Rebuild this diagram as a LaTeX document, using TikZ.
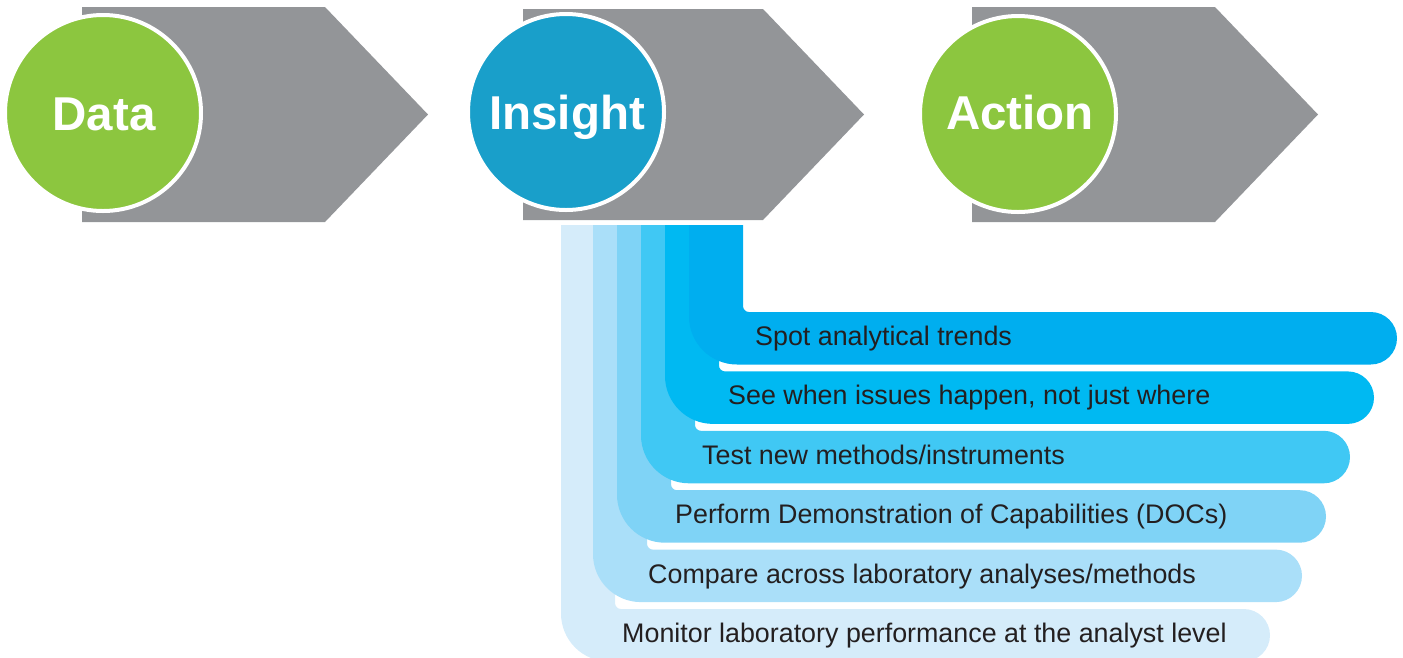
\documentclass[tikz,border=0pt]{standalone}
\usepackage{fontspec}
\setmainfont{Liberation Sans}
\definecolor{chevgray}{HTML}{939598}
\definecolor{dgreen}{HTML}{8CC63F}
\definecolor{iblue}{HTML}{199FCA}
\definecolor{bandA}{HTML}{00AEEF}
\definecolor{bandB}{HTML}{00B9F2}
\definecolor{bandC}{HTML}{40C8F4}
\definecolor{bandD}{HTML}{7FD3F6}
\definecolor{bandE}{HTML}{AADFF9}
\definecolor{bandF}{HTML}{D5ECFA}
\definecolor{txtdark}{HTML}{231F20}
\newcommand\drawband[4]{%
  \fill[#4] (#1,-225) -- ({#1+54},-225) -- ({#1+54},{-#2+6})
    arc[start angle=180,end angle=270,radius=6pt]
    -- ({#3-26.25},{-#2})
    arc[start angle=90,end angle=-90,radius=26.25pt]
    -- ({#1+48},{-#2-52.5})
    arc[start angle=270,end angle=180,radius=48pt]
    -- cycle;}
\tikzset{
  chev/.style={fill=chevgray},
  stagecircle/.style={circle, draw=white, line width=4pt, minimum size=196pt, inner sep=0pt},
  stagelbl/.style={text=white, font=\fontsize{47.5}{50}\selectfont\bfseries, inner sep=0pt, anchor=base},
  lbl/.style={text=txtdark, font=\fontsize{26.85}{30}\selectfont, inner sep=0pt, anchor=base west}
}
\begin{document}
\begin{tikzpicture}[x=1pt,y=1pt]
\useasboundingbox (0,0) rectangle (1403,-657);
\clip (0,0) rectangle (1403,-657);
% chevrons
\fill[chev] (82,-7) -- (325,-7) -- (428,-114.5) -- (325,-222) -- (82,-222) -- cycle;
\fill[chev] (523,-9) -- (763,-9) -- (864,-114.5) -- (763,-220) -- (523,-220) -- cycle;
\fill[chev] (972,-7) -- (1215,-7) -- (1318,-114.5) -- (1215,-222) -- (972,-222) -- cycle;
% circles
\node[stagecircle, fill=dgreen] (cdata) at (103,-113) {};
\node[stagecircle, fill=iblue] (cins) at (566,-112) {};
\node[stagecircle, fill=dgreen] (cact) at (1018,-114) {};
\node[stagelbl] (ldata) at (104,-130) {Data};
\node[stagelbl] (lins) at (567,-129.5) {Insight};
\node[stagelbl] (lact) at (1020,-129.5) {Action};
% bands (back to front)
\drawband{561}{609}{1270}{bandF}
\drawband{593}{549.6}{1302}{bandE}
\drawband{617}{490.2}{1326}{bandD}
\drawband{641}{430.8}{1350}{bandC}
\drawband{665}{371.4}{1374}{bandB}
\drawband{689}{312}{1397}{bandA}
% labels
\node[lbl] (t1) at (755,-345.5) {Spot analytical trends};
\node[lbl] (t2) at (728,-404.9) {See when issues happen, not just where};
\node[lbl] (t3) at (702,-464.3) {Test new methods/instruments};
\node[lbl] (t4) at (675,-523.7) {Perform Demonstration of Capabilities (DOCs)};
\node[lbl] (t5) at (648,-583.1) {Compare across laboratory analyses/methods};
\node[lbl] (t6) at (622,-642.5) {Monitor laboratory performance at the analyst level};
\end{tikzpicture}
\end{document}
